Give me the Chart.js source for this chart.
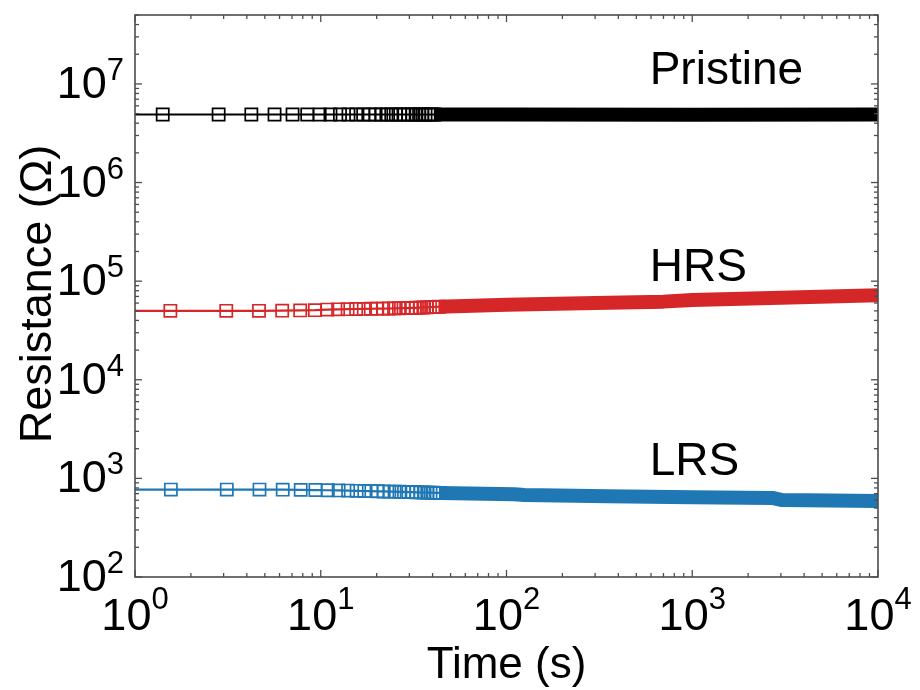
<!DOCTYPE html>
<html>
<head>
<meta charset="utf-8">
<script src="https://cdn.jsdelivr.net/npm/chart.js@4.4.3/dist/chart.umd.min.js"></script>
<style>
  html,body{margin:0;padding:0;background:#fff}
  #wrap{width:920px;height:690px;position:relative}
</style>
</head>
<body>
<div id="wrap"><canvas id="c"></canvas></div>
<script>
const FONT = "'Liberation Sans', Arial, Helvetica, sans-serif"

// early samples, drawn as open squares (time in s, resistance in ohm)
const pristineT = [1, 1.41, 2.82, 4.23, 5.64, 7.05, 8.46, 9.87, 11.28, 12.69, 14.1, 15.51, 16.92, 18.33, 19.74, 21.15, 22.56, 23.97, 25.38, 26.79, 28.2, 29.61, 31.02, 32.43, 33.84, 35.25, 36.66, 38.07, 39.48, 40.89]
const pristineR = [4.9e6, 4.9e6, 4.9e6, 4.9e6, 4.9e6, 4.9e6, 4.9e6, 4.9e6, 4.9e6, 4.9e6, 4.9e6, 4.9e6, 4.9e6, 4.9e6, 4.9e6, 4.9e6, 4.9e6, 4.9e6, 4.9e6, 4.9e6, 4.9e6, 4.9e6, 4.9e6, 4.9e6, 4.9e6, 4.9e6, 4.9e6, 4.9e6, 4.9e6, 4.9e6]

const hrsT = [1, 1.55, 3.1, 4.65, 6.2, 7.75, 9.3, 10.85, 12.4, 13.95, 15.5, 17.05, 18.6, 20.15, 21.7, 23.25, 24.8, 26.35, 27.9, 29.45, 31.0, 32.55, 34.1, 35.65, 37.2, 38.75, 40.3, 41.85, 43.4]
const hrsR = [50000, 50000, 50000, 50000, 50200, 50500, 50800, 51500, 51800, 52000, 52200, 52300, 52500, 52600, 52700, 52800, 53000, 53100, 53300, 53400, 53500, 53700, 53900, 54100, 54300, 54500, 54700, 54900, 55000]

const lrsT = [1, 1.56, 3.12, 4.68, 6.24, 7.8, 9.36, 10.92, 12.48, 14.04, 15.6, 17.16, 18.72, 20.28, 21.84, 23.4, 24.96, 26.52, 28.08, 29.64, 31.2, 32.76, 34.32, 35.88, 37.44, 39.0, 40.56, 42.12, 43.68]
const lrsR = [770, 770, 770, 770, 768, 765, 762, 758, 755, 752, 748, 745, 742, 740, 737, 735, 733, 731, 729, 727, 725, 723, 721, 719, 717, 716, 715, 713, 712]

// later, densely sampled part: overlapping squares form a solid band
const pristineBandT = [40.89, 100, 1000, 10000]
const pristineBandR = [4.9e6, 4.9e6, 4.88e6, 4.9e6]

const hrsBandT = [43.4, 100, 300, 700, 1000, 3000, 10000]
const hrsBandR = [55000, 57500, 60000, 62000, 64300, 68000, 72000]

const lrsBandT = [43.68, 110, 125, 350, 1000, 2700, 3050, 10000]
const lrsBandR = [712, 692, 678, 658, 645, 634, 602, 590]

// axis ticks
const xMajor = [1, 10, 100, 1000, 10000]
const xExp = ['0', '1', '2', '3', '4']
const yMajor = [1e2, 1e3, 1e4, 1e5, 1e6, 1e7]
const yExp = ['2', '3', '4', '5', '6', '7']

const labels = ['Pristine', 'HRS', 'LRS']
const labelT = [590, 590, 590]
const labelR = [1e7, 1e5, 1.07e3]

const BLACK = '#000000'
const RED = '#d62728'
const BLUE = '#1f77b4'

const pts = (t, r) => t.map((v, i) => ({ x: v, y: r[i] }))

function markerSet(t, r, color) {
  return {
    data: pts(t, r),
    borderColor: color,
    backgroundColor: 'transparent',
    borderWidth: 2.2,
    pointStyle: 'rect',
    pointRadius: ctx => ctx.dataIndex === 0 ? 0 : 8.6,
    pointBorderWidth: 1.7,
    pointBorderColor: color,
    pointBackgroundColor: 'transparent',
    tension: 0,
  }
}

function bandSet(t, r, color) {
  return {
    data: pts(t, r),
    borderColor: color,
    backgroundColor: color,
    borderWidth: 14,
    borderCapStyle: 'butt',
    borderJoinStyle: 'round',
    pointRadius: 0,
    tension: 0,
  }
}

function minorTicks(majors, min, max) {
  const out = []
  majors.concat([majors[majors.length - 1] * 10]).forEach(m => {
    for (let k = 2; k <= 9; k++) {
      const v = m * k
      if (v >= min && v <= max) out.push(v)
    }
  })
  return out
}

const frame = {
  id: 'frame',
  afterDatasetsDraw(chart) {
    const { ctx, chartArea: a, scales: { x, y } } = chart
    ctx.save()
    ctx.strokeStyle = '#4d4d4d'
    ctx.lineWidth = 1.3
    const tick = (x1, y1, x2, y2) => { ctx.beginPath(); ctx.moveTo(x1, y1); ctx.lineTo(x2, y2); ctx.stroke() }

    xMajor.forEach(v => { const p = x.getPixelForValue(v); tick(p, a.bottom, p, a.bottom - 7); tick(p, a.top, p, a.top + 7) })
    minorTicks(xMajor, x.min, x.max).forEach(v => { const p = x.getPixelForValue(v); tick(p, a.bottom, p, a.bottom - 4); tick(p, a.top, p, a.top + 4) })
    yMajor.forEach(v => { const p = y.getPixelForValue(v); tick(a.left, p, a.left + 7, p); tick(a.right, p, a.right - 7, p) })
    minorTicks(yMajor, y.min, y.max).forEach(v => { const p = y.getPixelForValue(v); tick(a.left, p, a.left + 4, p); tick(a.right, p, a.right - 4, p) })

    ctx.lineWidth = 1.6
    ctx.strokeRect(a.left, a.top, a.right - a.left, a.bottom - a.top)

    // tick labels: 10 with superscript exponent
    ctx.fillStyle = '#000'
    ctx.textBaseline = 'alphabetic'
    const big = '45px ' + FONT, small = '31px ' + FONT
    xMajor.forEach((v, i) => {
      const p = x.getPixelForValue(v)
      ctx.font = big
      const w1 = ctx.measureText('10').width
      ctx.font = small
      const w2 = ctx.measureText(xExp[i]).width
      const left = p - (w1 + w2) / 2
      ctx.textAlign = 'left'
      ctx.font = big
      ctx.fillText('10', left, a.bottom + 53)
      ctx.font = small
      ctx.fillText(xExp[i], left + w1, a.bottom + 32)
    })
    yMajor.forEach((v, i) => {
      const p = y.getPixelForValue(v)
      const right = a.left - 11
      ctx.textAlign = 'right'
      ctx.font = small
      const w2 = ctx.measureText(yExp[i]).width
      ctx.fillText(yExp[i], right, p - 4)
      ctx.font = big
      ctx.fillText('10', right - w2, p + 14)
    })

    // axis titles
    ctx.font = '44px ' + FONT
    ctx.textAlign = 'center'
    ctx.fillText('Time (s)', (a.left + a.right) / 2, a.bottom + 101)
    ctx.save()
    ctx.translate(51, (a.top + a.bottom) / 2 - 2)
    ctx.rotate(-Math.PI / 2)
    ctx.font = '45px ' + FONT
    ctx.fillText('Resistance (\u03A9)', 0, 0)
    ctx.restore()

    // curve names
    ctx.font = '46px ' + FONT
    ctx.textAlign = 'left'
    labels.forEach((s, i) => ctx.fillText(s, x.getPixelForValue(labelT[i]), y.getPixelForValue(labelR[i])))
    ctx.restore()
  }
}

new Chart(document.getElementById('c'), {
  type: 'line',
  data: {
    datasets: [
      markerSet(pristineT, pristineR, BLACK),
      bandSet(pristineBandT, pristineBandR, BLACK),
      markerSet(hrsT, hrsR, RED),
      bandSet(hrsBandT, hrsBandR, RED),
      markerSet(lrsT, lrsR, BLUE),
      bandSet(lrsBandT, lrsBandR, BLUE),
    ]
  },
  options: {
    responsive: true,
    maintainAspectRatio: false,
    animation: false,
    layout: { padding: { left: 135, right: 42, top: 15, bottom: 113 } },
    plugins: { legend: { display: false }, tooltip: { enabled: false } },
    scales: {
      x: { type: 'logarithmic', min: 1, max: 10000, display: false },
      y: { type: 'logarithmic', min: 100, max: 5e7, display: false },
    },
  },
  plugins: [frame],
})
</script>
</body>
</html>
